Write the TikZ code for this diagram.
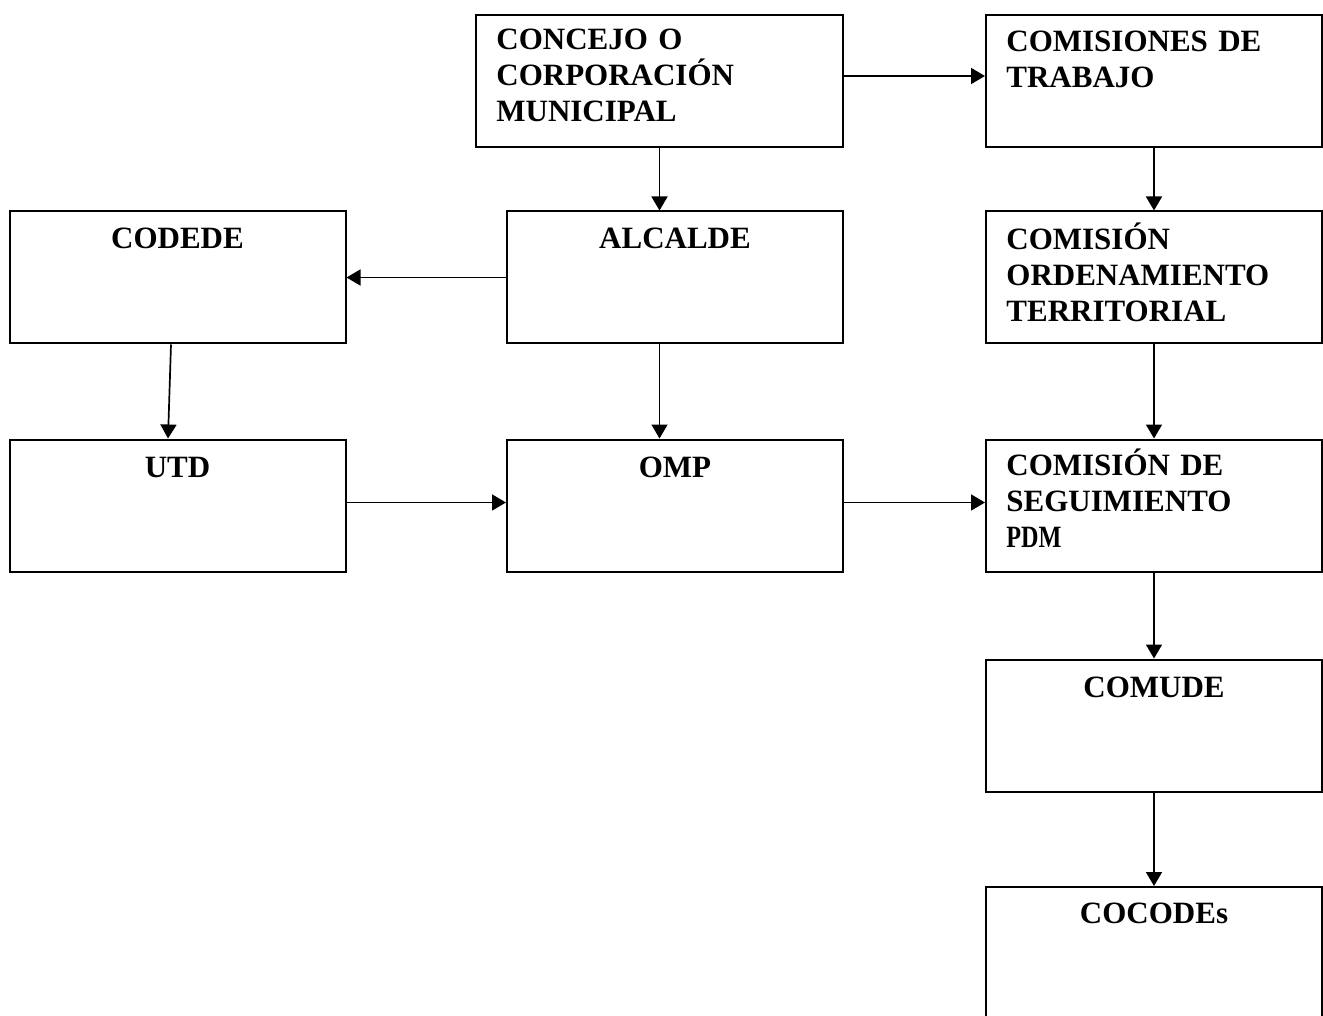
\documentclass[tikz,border=0pt]{standalone}
\usepackage{fontspec}
\setmainfont{Liberation Serif}
\usetikzlibrary{arrows.meta}

\tikzset{
  box/.style={shape=rectangle, draw=black, line width=1pt, minimum width=168pt, minimum height=66pt},
  lefttext/.style={anchor=base west, inner sep=0pt, text width=155pt, align=left},
  midtext/.style={anchor=base, inner sep=0pt},
  arr/.style={-{Triangle[length=7pt,width=8pt]}, line width=0.85pt, black},
}

\begin{document}
\begin{tikzpicture}[x=0.5pt, y=-0.5pt, font=\fontsize{15.5}{18}\selectfont\bfseries]
	\useasboundingbox (0,0) rectangle (1323,1016);

	\node[box, minimum width=183.5pt] (concejo) at (659.5,81){};
	\node[box] (comisiones) at (1154,81){};
	\node[box] (codede) at (177.5,277.5){};
	\node[box] (alcalde) at (675,277.5){};
	\node[box] (ordenamiento) at (1154,277.5){};
	\node[box] (utd) at (177.5,505.5){};
	\node[box] (omp) at (675,505.5){};
	\node[box] (seguimiento) at (1154,505.5){};
	\node[box] (comude) at (1154,725.5){};
	\node[box] (cocodes) at (1154,953){};

	\node[lefttext] (concejotxt) at ([xshift=10.5pt,yshift=-18pt]concejo.north west){CONCEJO O\\CORPORACIÓN\\MUNICIPAL};
	\node[lefttext] (comisionestxt) at ([xshift=10.5pt,yshift=-19pt]comisiones.north west){COMISIONES DE\\TRABAJO};
	\node[lefttext] (ordenamientotxt) at ([xshift=10.5pt,yshift=-19.5pt]ordenamiento.north west){COMISIÓN\\ORDENAMIENTO\\TERRITORIAL};
	\node[lefttext] (seguimientotxt) at ([xshift=10.5pt,yshift=-18.5pt]seguimiento.north west){COMISIÓN DE\\SEGUIMIENTO\\\scalebox{0.78}[1]{PDM}};
	\node[midtext] (codedetxt) at ([yshift=-19pt]codede.north){CODEDE};
	\node[midtext] (alcaldetxt) at ([yshift=-19pt]alcalde.north){ALCALDE};
	\node[midtext] (utdtxt) at ([yshift=-19.5pt]utd.north){UTD};
	\node[midtext] (omptxt) at ([yshift=-19.5pt]omp.north){OMP};
	\node[midtext] (comudetxt) at ([yshift=-19.5pt]comude.north){COMUDE};
	\node[midtext] (cocodestxt) at ([yshift=-18.5pt]cocodes.north){COCODEs};

	\path [arr] ([yshift=2.5pt]concejo.east) edge ([yshift=2.5pt]comisiones.west);
	\path [arr] (concejo.south) edge (concejo.south |- alcalde.north);
	\path [arr] (comisiones.south) edge (ordenamiento.north);
	\path [arr] (alcalde.west) edge (codede.east);
	\path [arr] ([xshift=-3.25pt]codede.south) edge ([xshift=-4.75pt]utd.north);
	\path [arr] (alcalde.south -| concejo.south) edge (concejo.south |- omp.north);
	\path [arr] (ordenamiento.south) edge (seguimiento.north);
	\path [arr] ([yshift=1.5pt]utd.east) edge ([yshift=1.5pt]omp.west);
	\path [arr] ([yshift=1.5pt]omp.east) edge ([yshift=1.5pt]seguimiento.west);
	\path [arr] (seguimiento.south) edge (comude.north);
	\path [arr] (comude.south) edge (cocodes.north);
\end{tikzpicture}
\end{document}
